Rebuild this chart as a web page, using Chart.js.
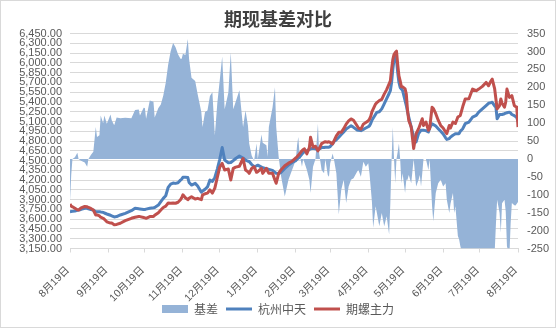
<!DOCTYPE html>
<html>
<head>
<meta charset="utf-8">
<script src="https://cdn.jsdelivr.net/npm/chart.js@4.4.1/dist/chart.umd.min.js"></script>
<style>
  html, body { margin: 0; padding: 0; background: #fff; }
  canvas { display: block; }
</style>
</head>
<body>
<canvas id="chart" width="556" height="328"></canvas>
<script>
// Trading dates (sampled), Aug 2020 – Aug 2021
const dates = [
  '2020-08-19','2020-08-20','2020-08-21','2020-08-23','2020-08-25','2020-08-26','2020-08-28','2020-08-31','2020-09-02','2020-09-03',
  '2020-09-05','2020-09-07','2020-09-09','2020-09-10','2020-09-12','2020-09-13','2020-09-15','2020-09-16','2020-09-18','2020-09-21',
  '2020-09-22','2020-09-24','2020-09-26','2020-09-29','2020-10-03','2020-10-08','2020-10-11','2020-10-14','2020-10-15','2020-10-18',
  '2020-10-19','2020-10-20','2020-10-23','2020-10-26','2020-10-27','2020-10-30','2020-11-01','2020-11-03','2020-11-05','2020-11-07',
  '2020-11-09','2020-11-11','2020-11-13','2020-11-15','2020-11-17','2020-11-18','2020-11-19','2020-11-21','2020-11-23','2020-11-24',
  '2020-11-26','2020-11-29','2020-12-01','2020-12-04','2020-12-05','2020-12-07','2020-12-09','2020-12-11','2020-12-13','2020-12-15',
  '2020-12-17','2020-12-19','2020-12-21','2020-12-23','2020-12-26','2020-12-28','2020-12-30','2021-01-01','2021-01-04','2021-01-07',
  '2021-01-09','2021-01-11','2021-01-12','2021-01-14','2021-01-16','2021-01-18','2021-01-19','2021-01-22','2021-01-23','2021-01-26',
  '2021-01-27','2021-01-28','2021-01-31','2021-02-02','2021-02-03','2021-02-05','2021-02-07','2021-02-10','2021-02-13','2021-02-16',
  '2021-02-19','2021-02-20','2021-02-21','2021-02-22','2021-02-24','2021-02-25','2021-02-26','2021-02-28','2021-03-02','2021-03-03',
  '2021-03-05','2021-03-07','2021-03-09','2021-03-10','2021-03-12','2021-03-14','2021-03-15','2021-03-17','2021-03-18','2021-03-19',
  '2021-03-21','2021-03-22','2021-03-24','2021-03-26','2021-03-28','2021-03-30','2021-04-01','2021-04-03','2021-04-05','2021-04-07',
  '2021-04-10','2021-04-11','2021-04-13','2021-04-15','2021-04-17','2021-04-19','2021-04-20','2021-04-21','2021-04-22','2021-04-23',
  '2021-04-25','2021-04-26','2021-04-28','2021-04-30','2021-05-02','2021-05-04','2021-05-06','2021-05-07','2021-05-08','2021-05-09',
  '2021-05-10','2021-05-11','2021-05-12','2021-05-13','2021-05-14','2021-05-15','2021-05-16','2021-05-17','2021-05-19','2021-05-20',
  '2021-05-21','2021-05-22','2021-05-24','2021-05-26','2021-05-28','2021-05-30','2021-05-31','2021-06-01','2021-06-02','2021-06-03',
  '2021-06-05','2021-06-07','2021-06-08','2021-06-10','2021-06-11','2021-06-13','2021-06-15','2021-06-17','2021-06-19','2021-06-21',
  '2021-06-22','2021-06-24','2021-06-25','2021-06-27','2021-06-28','2021-06-29','2021-07-01','2021-07-02','2021-07-03','2021-07-05',
  '2021-07-07','2021-07-10','2021-07-13','2021-07-16','2021-07-18','2021-07-21','2021-07-24','2021-07-26','2021-07-28','2021-07-29',
  '2021-07-31','2021-08-01','2021-08-02','2021-08-04','2021-08-05','2021-08-06','2021-08-08','2021-08-09','2021-08-10','2021-08-12',
  '2021-08-13','2021-08-14','2021-08-16','2021-08-17','2021-08-18','2021-08-19'
];

// 杭州中天 spot price (left axis)
const spotPrice = [
  3716,3718,3720,3725,3735,3741,3750,3767,3767,3760,
  3750,3740,3716,3716,3716,3712,3705,3695,3680,3660,
  3650,3635,3640,3665,3690,3730,3767,3760,3755,3750,
  3750,3755,3767,3775,3780,3817,3870,3920,3960,4090,
  4140,4155,4150,4160,4200,4215,4243,4245,4240,4165,
  4124,4150,4110,4015,4030,4060,4095,4200,4180,4240,
  4370,4520,4700,4508,4467,4470,4500,4532,4570,4540,
  4508,4490,4485,4440,4406,4420,4430,4400,4390,4375,
  4370,4365,4350,4320,4304,4300,4320,4380,4430,4470,
  4500,4520,4540,4553,4600,4620,4640,4650,4670,4680,
  4690,4680,4670,4680,4700,4700,4705,4706,4706,4715,
  4760,4790,4820,4858,4900,4940,4984,5010,5035,5010,
  4970,4965,4960,4980,5000,5020,5035,5070,5120,5150,
  5213,5240,5250,5294,5370,5450,5530,5573,5700,5900,
  6050,6100,6050,5850,5700,5623,5600,5573,5420,5345,
  5250,5168,5015,4863,4787,4914,4940,4965,4965,4965,
  4960,4940,5000,5066,5055,5030,4990,4950,4910,4850,
  4825,4838,4860,4889,4900,4914,4914,4914,4950,4990,
  5066,5092,5168,5193,5244,5294,5345,5380,5390,5395,
  5340,5320,5142,5208,5208,5208,5220,5229,5235,5244,
  5230,5208,5190,5178,5160,5100
];

// 期螺主力 rebar futures, main contract (left axis)
const futuresPrice = [
  3835,3800,3790,3767,3745,3741,3775,3795,3790,3780,
  3765,3741,3665,3665,3650,3630,3614,3600,3560,3540,
  3540,3515,3520,3538,3578,3614,3630,3640,3640,3625,
  3620,3614,3640,3640,3660,3700,3741,3780,3800,3848,
  3845,3848,3845,3860,3898,3930,3975,3930,3900,3920,
  3945,3910,3920,3900,3975,3990,4000,4050,4000,4076,
  4240,4400,4456,4356,4370,4203,4380,4400,4413,4532,
  4356,4330,4304,4380,4406,4320,4330,4380,4304,4380,
  4340,4304,4304,4200,4152,4304,4360,4420,4460,4490,
  4540,4560,4580,4604,4650,4670,4680,4604,4700,4858,
  4706,4720,4650,4680,4760,4782,4790,4782,4790,4780,
  4757,4800,4880,4934,4934,4990,5060,5110,5140,5120,
  5030,5000,4984,5060,5086,5110,5137,5180,5250,5290,
  5370,5390,5420,5440,5520,5590,5680,5725,5900,6050,
  6130,6160,6180,5978,5800,5725,5634,5634,5600,5522,
  5269,5117,5015,4685,4914,4990,5040,5092,5142,5040,
  5092,4965,4990,5320,5300,5220,5120,5040,5000,4940,
  4914,5040,5000,5092,5080,5070,5168,5180,5193,5330,
  5446,5450,5598,5573,5598,5640,5700,5649,5725,5750,
  5600,5446,5294,5345,5446,5380,5320,5400,5598,5471,
  5480,5497,5345,5330,5320,5015
];

// 基差 basis (right axis)
const basis = [
  -118,-45,0,5,17,0,-5,-10,-22,0,
  11,20,89,61,66,121,100,121,98,124,
  108,94,116,114,115,114,137,138,121,143,
  142,112,163,160,116,142,152,177,213,264,
  301,324,312,292,280,280,294,290,335,280,
  227,218,181,131,89,131,135,176,186,66,
  155,220,286,139,185,297,139,160,192,89,
  135,93,43,10,-5,43,0,68,45,38,
  6,89,144,200,89,6,-49,-105,-58,-30,
  -3,38,61,15,-22,0,-10,-31,-58,-95,
  -22,0,98,15,-31,-40,0,-45,-50,-12,
  15,0,-40,-155,-86,-58,-123,-77,-58,-54,
  -35,-31,-50,-8,-22,-12,-40,-80,-120,-192,
  -132,-150,-188,-151,-188,-160,-211,-123,-3,89,
  0,-68,0,20,43,0,-68,-40,-95,-58,
  -58,-45,-68,0,-77,-58,-45,-77,-40,0,
  0,-31,0,-132,-174,-95,-68,-58,-77,-68,
  -114,-151,-125,-95,-151,-132,-215,-224,-243,-270,
  -380,-360,-430,-380,-354,-346,-355,-270,-335,-355,
  -260,-184,-114,-151,-206,-124,-114,-147,-244,-270,
  -180,-123,-129,-130,-125,-120
];

// Axis ticks
const monthTicks = [
  '2020-08-19','2020-09-19','2020-10-19','2020-11-19','2020-12-19','2021-01-19','2021-02-19',
  '2021-03-19','2021-04-19','2021-05-19','2021-06-19','2021-07-19','2021-08-19'
];
const priceTicks = [3150,3300,3450,3600,3750,3900,4050,4200,4350,4500,4650,4800,4950,5100,5250,5400,5550,5700,5850,6000,6150,6300,6450];
const basisTicks = [-250,-200,-150,-100,-50,0,50,100,150,200,250,300,350];

// Calendar-day positions along the x axis
const DAY = 86400000;
const t0 = Date.parse(dates[0]);
const dayOf = d => Math.round((Date.parse(d) - t0) / DAY);
const xs = dates.map(dayOf);
const tickDays = monthTicks.map(dayOf);
const tickText = monthTicks.map(d => {
  const [, m, dd] = d.split('-');
  return `${+m}月${+dd}日`;
});

const LATIN = '"Liberation Sans", "Noto Sans CJK SC", sans-serif';
const CJK = '"Noto Sans CJK SC", sans-serif';
const GREY = '#595959';
const GRID = '#d9d9d9';

const series = (vals) => xs.map((x, i) => ({ x, y: vals[i] }));

// White card with a thin grey outline
const frame = {
  id: 'frame',
  beforeDraw(chart) {
    const { ctx, width, height } = chart;
    ctx.save();
    ctx.fillStyle = '#ffffff';
    ctx.fillRect(0, 0, width, height);
    ctx.strokeStyle = GRID;
    ctx.lineWidth = 1;
    ctx.strokeRect(0.5, 0.5, width - 1, height - 1);
    ctx.restore();
  }
};

// Month labels under the date axis, slanted 45°, ending at their tick
const slantedDateLabels = {
  id: 'slantedDateLabels',
  afterDraw(chart) {
    const { ctx } = chart;
    const xScale = chart.scales.x;
    ctx.save();
    ctx.font = `10.5px ${LATIN}`;
    ctx.fillStyle = GREY;
    ctx.textAlign = 'right';
    ctx.textBaseline = 'middle';
    tickDays.forEach((d, i) => {
      const px = xScale.getPixelForValue(d);
      ctx.save();
      ctx.translate(px - 2, xScale.top + 20);
      ctx.rotate(-Math.PI / 4);
      ctx.fillText(tickText[i], 0, 0);
      ctx.restore();
    });
    ctx.restore();
  }
};

new Chart(document.getElementById('chart'), {
  type: 'line',
  data: {
    datasets: [
      {
        label: '基差',
        data: series(basis),
        yAxisID: 'y1',
        fill: 'origin',
        backgroundColor: '#95B3D7',
        borderColor: 'rgba(0,0,0,0)',
        borderWidth: 0,
        pointRadius: 0,
        tension: 0,
        order: 3
      },
      {
        label: '杭州中天',
        data: series(spotPrice),
        yAxisID: 'y',
        fill: false,
        borderColor: '#4F81BD',
        backgroundColor: '#4F81BD',
        borderWidth: 3,
        borderJoinStyle: 'round',
        pointRadius: 0,
        tension: 0,
        order: 2
      },
      {
        label: '期螺主力',
        data: series(futuresPrice),
        yAxisID: 'y',
        fill: false,
        borderColor: '#C0504D',
        backgroundColor: '#C0504D',
        borderWidth: 3,
        borderJoinStyle: 'round',
        pointRadius: 0,
        tension: 0,
        order: 1
      }
    ]
  },
  options: {
    responsive: false,
    animation: false,
    events: [],
    layout: { padding: { left: 0, right: 0, top: 0, bottom: 3 } },
    plugins: {
      title: {
        display: true,
        text: '期现基差对比',
        color: '#404040',
        font: { family: CJK, size: 18, weight: 'bold' },
        padding: { top: 8, bottom: 4 }
      },
      legend: {
        position: 'bottom',
        labels: {
          usePointStyle: true,
          pointStyleWidth: 26,
          boxHeight: 8,
          padding: 8,
          color: GREY,
          font: { family: CJK, size: 12 },
          generateLabels: (chart) => chart.data.datasets.map((ds, i) => ({
            text: ds.label,
            datasetIndex: i,
            fillStyle: i === 0 ? ds.backgroundColor : ds.borderColor,
            strokeStyle: ds.borderColor,
            lineWidth: i === 0 ? 0 : 3,
            lineCap: 'butt',
            pointStyle: i === 0 ? 'rect' : 'line',
            hidden: false,
            fontColor: GREY
          }))
        }
      },
      tooltip: { enabled: false }
    },
    scales: {
      x: {
        type: 'linear',
        min: 0,
        max: 365,
        afterBuildTicks: (s) => { s.ticks = tickDays.map(v => ({ value: v })); },
        afterFit: (s) => { s.height = 46.5; },
        ticks: { display: false, autoSkip: false },
        grid: { display: true, drawOnChartArea: false, drawTicks: true, tickLength: 4, color: GRID },
        border: { display: true, color: GRID }
      },
      y: {
        position: 'left',
        min: 3150,
        max: 6450,
        afterBuildTicks: (s) => { s.ticks = priceTicks.map(v => ({ value: v })); },
        afterFit: (s) => { s.width = 70; },
        ticks: {
          autoSkip: false,
          padding: 8,
          color: GREY,
          font: { family: LATIN, size: 11 },
          callback: (v) => v.toLocaleString('en-US', { minimumFractionDigits: 2, maximumFractionDigits: 2 })
        },
        grid: { color: GRID, drawTicks: false },
        border: { display: false }
      },
      y1: {
        position: 'right',
        min: -250,
        max: 350,
        afterBuildTicks: (s) => { s.ticks = basisTicks.map(v => ({ value: v })); },
        afterFit: (s) => { s.width = 38; },
        ticks: {
          autoSkip: false,
          padding: 9,
          color: GREY,
          font: { family: LATIN, size: 11 }
        },
        grid: { display: false, drawTicks: false },
        border: { display: false }
      }
    }
  },
  plugins: [frame, slantedDateLabels]
});
</script>
</body>
</html>
